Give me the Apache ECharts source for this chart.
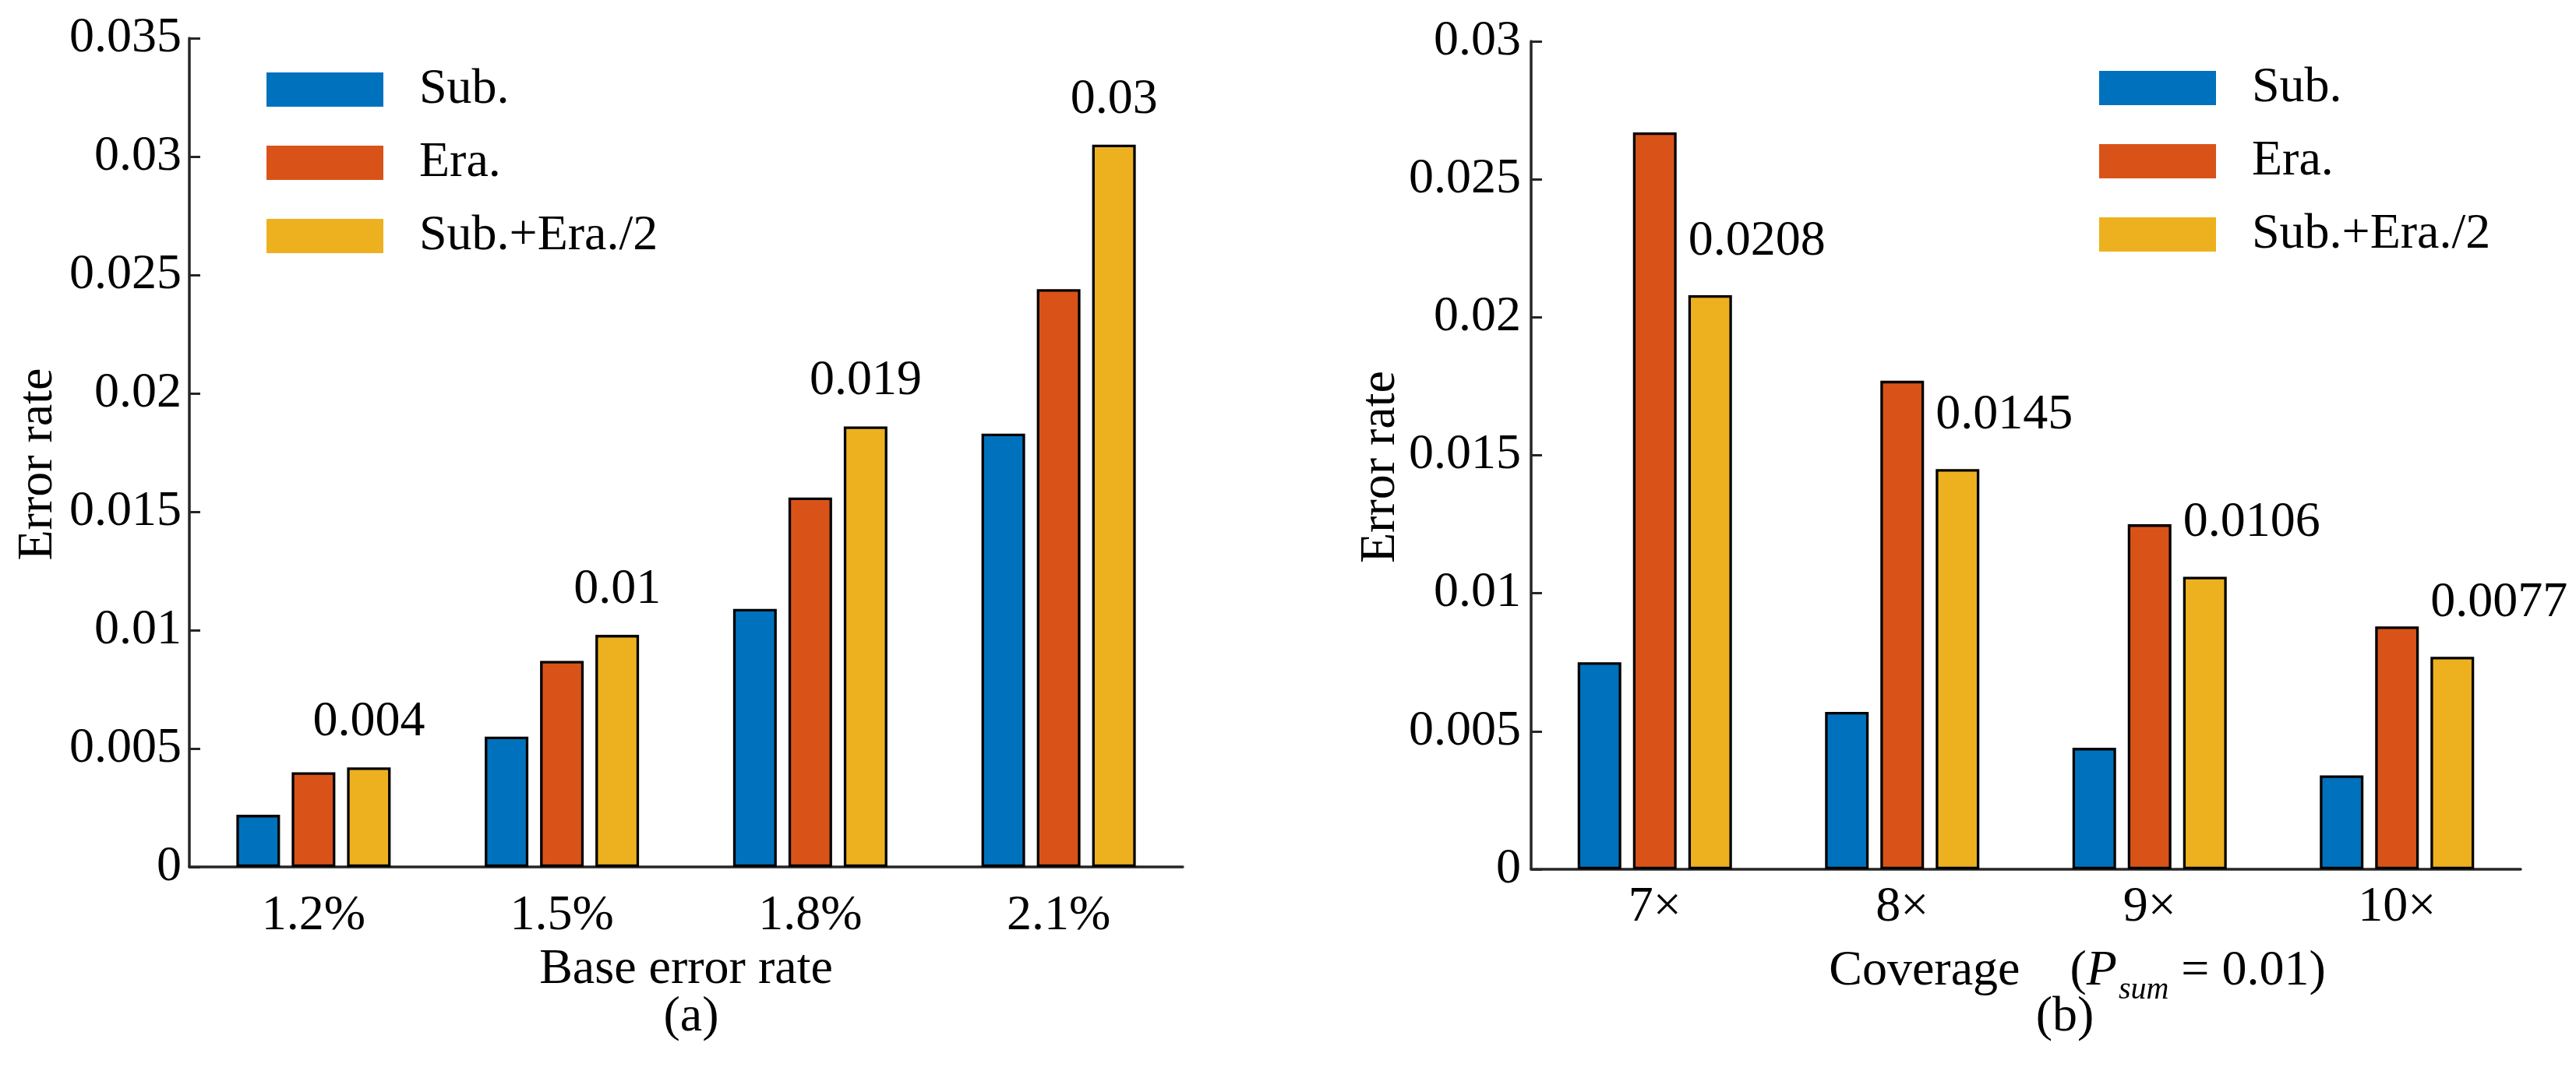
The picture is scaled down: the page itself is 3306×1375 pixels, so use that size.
<!DOCTYPE html>
<html>
<head>
<meta charset="utf-8">
<script src="https://cdn.jsdelivr.net/npm/echarts@6/dist/echarts.min.js"></script>
<style>
html,body{margin:0;padding:0;background:#fff;}
#chart{width:3306px;height:1375px;}
</style>
</head>
<body>
<div id="chart"></div>
<script>
// ---- data ----
const seriesNames = ['Sub.', 'Era.', 'Sub.+Era./2'];
const leftCats = ['1.2%', '1.5%', '1.8%', '2.1%'];
const leftSub = [0.0022, 0.0055, 0.0109, 0.0183];
const leftEra = [0.0040, 0.0087, 0.0156, 0.0244];
const leftMix = [0.0042, 0.0098, 0.0186, 0.0305];
const leftLabels = ['0.004', '0.01', '0.019', '0.03'];

const rightCats = ['7×', '8×', '9×', '10×'];
const rightSub = [0.0075, 0.0057, 0.0044, 0.0034];
const rightEra = [0.0267, 0.0177, 0.0125, 0.0088];
const rightMix = [0.0208, 0.0145, 0.0106, 0.0077];
const rightLabels = ['0.0208', '0.0145', '0.0106', '0.0077'];

const colors = ['#0072BD', '#D95319', '#EDB120'];
const FONT = '"Liberation Serif", "Times New Roman", serif';
const AX = '#262626';

const chart = echarts.init(document.getElementById('chart'), null, {renderer: 'canvas'});

function xAxisCfg(cats, gridIndex, margin, name, nameGap, nameStyle) {
  return {
    type: 'category', gridIndex: gridIndex, data: cats, boundaryGap: true,
    axisLine: {show: true, lineStyle: {color: AX, width: 3.5}},
    axisTick: {show: true, inside: true, alignWithLabel: true, length: 14, lineStyle: {color: AX, width: 3}},
    axisLabel: {color: '#000', fontFamily: FONT, fontSize: 64, lineHeight: 64, margin: margin},
    name: name, nameLocation: 'middle', nameGap: nameGap,
    nameTextStyle: nameStyle
  };
}
function yAxisCfg(gridIndex, max, margin, nameGap) {
  return {
    type: 'value', gridIndex: gridIndex, min: 0, max: max, interval: 0.005,
    axisLine: {show: true, lineStyle: {color: AX, width: 3.5}},
    axisTick: {show: true, inside: true, length: 14, lineStyle: {color: AX, width: 3}},
    axisLabel: {color: '#000', fontFamily: FONT, fontSize: 64, lineHeight: 64, margin: margin, padding: [12, 0, 0, 0]},
    splitLine: {show: false},
    name: 'Error rate', nameLocation: 'middle', nameRotate: 90, nameGap: nameGap,
    nameTextStyle: {color: '#000', fontFamily: FONT, fontSize: 64, lineHeight: 64, padding: [0, 30, 0, 0]}
  };
}
function barSeries(name, data, idx, gi, label) {
  const s = {
    name: name, type: 'bar', xAxisIndex: gi, yAxisIndex: gi, data: data,
    barWidth: 56, barGap: '26.8%',
    itemStyle: {color: colors[idx], borderColor: '#000', borderWidth: 3.3},
    emphasis: {disabled: true}
  };
  if (label) s.label = label;
  return s;
}

const legendCommon = {
  orient: 'vertical', icon: 'rect', itemWidth: 150, itemHeight: 44, itemGap: 30, padding: 0,
  itemStyle: {borderWidth: 0},
  textStyle: {color: '#000', fontFamily: FONT, fontSize: 64, padding: [0, 0, 0, 41]},
  data: seriesNames
};

const option = {
  animation: false,
  backgroundColor: '#fff',
  grid: [
    {left: 243, top: 49, width: 1275, height: 1064},
    {left: 1965, top: 53, width: 1270, height: 1063}
  ],
  legend: [
    Object.assign({left: 342, top: 83}, legendCommon),
    Object.assign({left: 2694, top: 81}, legendCommon)
  ],
  xAxis: [
    xAxisCfg(leftCats, 0, 31, 'Base error rate', 95,
      {color: '#000', fontFamily: FONT, fontSize: 64, lineHeight: 64}),
    xAxisCfg(rightCats, 1, 17, '{n|Coverage    (}{i|P}{s|sum}{n| = 0.01)}', 78,
      {color: '#000', fontFamily: FONT, fontSize: 64, lineHeight: 64, padding: [0, 0, 0, 132],
       rich: {
         n: {fontFamily: FONT, fontSize: 64, lineHeight: 64, color: '#000'},
         i: {fontFamily: FONT, fontSize: 64, lineHeight: 64, fontStyle: 'italic', color: '#000'},
         s: {fontFamily: FONT, fontSize: 40, lineHeight: 64, fontStyle: 'italic', color: '#000', padding: [50, 0, 0, 2]}
       }})
  ],
  yAxis: [
    yAxisCfg(0, 0.035, 10, 162),
    yAxisCfg(1, 0.03, 13, 156)
  ],
  graphic: [
    {type: 'text', left: null, x: 887, y: 1306, style: {text: '(a)', fill: '#000', font: '64px ' + FONT, textAlign: 'center', textVerticalAlign: 'middle'}},
    {type: 'text', x: 2650, y: 1306, style: {text: '(b)', fill: '#000', font: '64px ' + FONT, textAlign: 'center', textVerticalAlign: 'middle'}}
  ],
  series: [
    barSeries(seriesNames[0], leftSub, 0, 0),
    barSeries(seriesNames[1], leftEra, 1, 0),
    barSeries(seriesNames[2], leftMix, 2, 0, {
      show: true, position: 'top', distance: 26, color: '#000', fontFamily: FONT, fontSize: 64, lineHeight: 64,
      formatter: p => leftLabels[p.dataIndex]
    }),
    barSeries(seriesNames[0], rightSub, 0, 1),
    barSeries(seriesNames[1], rightEra, 1, 1),
    barSeries(seriesNames[2], rightMix, 2, 1, {
      show: true, position: [0, -37], align: 'left', verticalAlign: 'bottom', color: '#000', fontFamily: FONT, fontSize: 64, lineHeight: 64,
      formatter: p => rightLabels[p.dataIndex]
    })
  ]
};
chart.setOption(option);
</script>
</body>
</html>
